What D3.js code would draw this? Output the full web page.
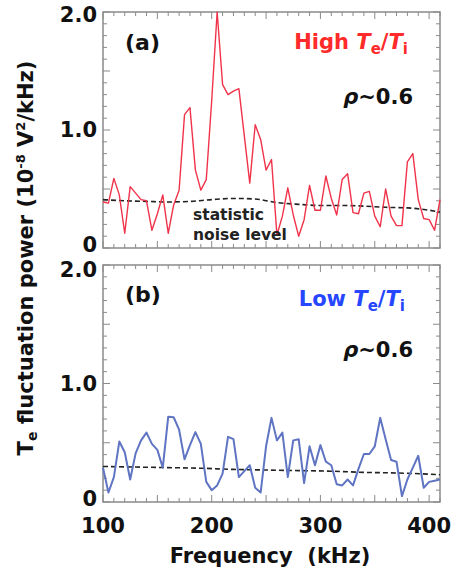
<!DOCTYPE html>
<html><head><meta charset="utf-8">
<script src="https://cdn.jsdelivr.net/npm/d3@7"></script>
<style>body{margin:0;background:#fff}svg text{font-family:"DejaVu Sans",sans-serif;font-weight:bold}</style>
</head><body><svg id="c" width="453" height="575"></svg>
<script>
// ---- data ----
const freqHigh = d3.range(100, 411, 5);   // 63 frequency bins (kHz)
const powerHigh = [0.39,0.38,0.59,0.45,0.125,0.52,0.465,0.41,0.40,0.15,0.29,0.45,0.125,0.365,0.49,
  1.13,1.19,0.66,0.49,0.58,1.25,2.0,1.385,1.30,1.33,1.35,0.95,0.55,1.045,0.92,0.66,0.75,0.11,0.27,
  0.51,0.28,0.10,0.24,0.53,0.32,0.32,0.61,0.42,0.28,0.58,0.63,0.30,0.29,0.465,0.48,0.27,0.18,0.50,
  0.27,0.19,0.19,0.73,0.80,0.41,0.25,0.24,0.15,0.41];
const freqLow = d3.range(100, 411, 5);
const powerLow = [0.29,0.08,0.21,0.51,0.42,0.19,0.41,0.52,0.585,0.49,0.44,0.29,0.72,0.715,0.61,0.36,
  0.48,0.59,0.49,0.17,0.10,0.14,0.24,0.55,0.53,0.21,0.26,0.31,0.12,0.08,0.47,0.71,0.52,0.585,0.21,
  0.52,0.53,0.16,0.47,0.31,0.48,0.34,0.31,0.15,0.14,0.19,0.14,0.28,0.405,0.405,0.47,0.71,0.53,0.355,
  0.34,0.05,0.19,0.29,0.39,0.12,0.17,0.18,0.19];
const noiseFreqHigh = [100,120,140,160,180,200,220,240,260,280,300,320,340,360,380,400,410];
const noiseHigh = [0.41,0.40,0.395,0.39,0.395,0.41,0.42,0.415,0.385,0.37,0.36,0.36,0.355,0.345,0.34,0.32,0.305];
const noiseFreqLow = [100,130,160,190,220,250,280,310,340,370,400,410];
const noiseLow = [0.30,0.295,0.29,0.285,0.275,0.27,0.265,0.26,0.25,0.245,0.235,0.23];
const xTickLabels = [100,200,300,400];
const yTickLabels = [0,1,2];

// ---- layout ----
const svg = d3.select("#c");
const L = 103, R = 440;
const x = d3.scaleLinear().domain([100,410]).range([L,R]);
const panels = [
  {top:12, bot:248, freq:freqHigh, p:powerHigh, nf:noiseFreqHigh, n:noiseHigh, color:"#f0334a",
   label:"(a)", title:"High", tcolor:"#ff2a2a"},
  {top:265, bot:502, freq:freqLow, p:powerLow, nf:noiseFreqLow, n:noiseLow, color:"#5f74c2",
   label:"(b)", title:"Low", tcolor:"#2646ff"}
];
const frameC = "#8a8a8a";

panels.forEach((P,pi)=>{
  const y = d3.scaleLinear().domain([0,2]).range([P.bot,P.top]);
  const g = svg.append("g");
  const yMinor = d3.range(0,2.001,0.1).map(v=>+v.toFixed(1));
  const xMinor = d3.range(100,411,10);
  yMinor.forEach(v=>{
    const len = (Math.round(v*10)%5===0)?7:4;
    g.append("line").attr("x1",L).attr("x2",L+len).attr("y1",y(v)).attr("y2",y(v)).attr("stroke",frameC);
    g.append("line").attr("x1",R).attr("x2",R-len).attr("y1",y(v)).attr("y2",y(v)).attr("stroke",frameC);
  });
  xMinor.forEach(f=>{
    const len = (f%50===0)?7:4;
    g.append("line").attr("x1",x(f)).attr("x2",x(f)).attr("y1",P.bot).attr("y2",P.bot-len).attr("stroke",frameC);
    g.append("line").attr("x1",x(f)).attr("x2",x(f)).attr("y1",P.top).attr("y2",P.top+len).attr("stroke",frameC);
  });
  g.append("rect").attr("x",L).attr("y",P.top).attr("width",R-L).attr("height",P.bot-P.top)
    .attr("fill","none").attr("stroke",frameC).attr("stroke-width",1.5);
  yTickLabels.forEach(v=>{
    let dy = 0;
    if (v===0) dy = -3;
    if (v===2) dy = pi===0?3:5;
    g.append("text").attr("x",97).attr("y",y(v)+dy).attr("text-anchor","end")
      .attr("dominant-baseline","central").attr("font-size",21).attr("fill","#111")
      .text(v===0?"0":v.toFixed(1));
  });
  g.append("path").datum(P.nf.map((f,i)=>[f,P.n[i]]))
    .attr("d",d3.line().x(d=>x(d[0])).y(d=>y(d[1])).curve(d3.curveMonotoneX))
    .attr("fill","none").attr("stroke","#222").attr("stroke-width",1.6).attr("stroke-dasharray","5,3");
  g.append("path").datum(P.freq.map((f,i)=>[f,P.p[i]]))
    .attr("d",d3.line().x(d=>x(d[0])).y(d=>y(d[1])))
    .attr("fill","none").attr("stroke",P.color).attr("stroke-width",pi===0?1.4:2).attr("stroke-linejoin","round");
  g.append("text").attr("x",125).attr("y",P.top+(pi===0?38:37)).attr("font-size",22).attr("fill","#111").text(P.label);
  const t = g.append("text").attr("x",pi===0?408:405).attr("y",P.top+(pi===0?37:41)).attr("text-anchor","end")
    .attr("font-size",21).attr("fill",P.tcolor);
  t.append("tspan").text(P.title+" ");
  t.append("tspan").attr("font-style","italic").text("T");
  t.append("tspan").attr("font-size",15).attr("dy",5).text("e");
  t.append("tspan").attr("dy",-5).text("/");
  t.append("tspan").attr("font-style","italic").text("T");
  t.append("tspan").attr("font-size",15).attr("dy",5).text("i");
  const r = g.append("text").attr("x",413).attr("y",P.top+92).attr("text-anchor","end")
    .attr("font-size",21).attr("fill","#111");
  r.append("tspan").attr("font-style","italic").text("ρ");
  r.append("tspan").text("~0.6");
});

svg.append("text").attr("x",193).attr("y",220).attr("font-size",15.5).attr("fill","#222").text("statistic");
svg.append("text").attr("x",193).attr("y",240).attr("font-size",15.5).attr("fill","#222").text("noise level");

xTickLabels.forEach(f=>{
  svg.append("text").attr("x",x(f)).attr("y",533).attr("text-anchor","middle").attr("font-size",21)
    .attr("fill","#111").text(f);
});
svg.append("text").attr("x",270).attr("y",563).attr("text-anchor","middle").attr("font-size",21)
  .attr("fill","#111").attr("xml:space","preserve").text("Frequency  (kHz)");

const yt = svg.append("text").attr("transform","translate(33,258) rotate(-90)").attr("text-anchor","middle")
  .attr("font-size",21).attr("fill","#111");
yt.append("tspan").text("T");
yt.append("tspan").attr("font-size",14).attr("dy",4).text("e");
yt.append("tspan").attr("dy",-4).text(" fluctuation power (10");
yt.append("tspan").attr("font-size",13).attr("dy",-8).text("-8");
yt.append("tspan").attr("dy",8).text(" V");
yt.append("tspan").attr("font-size",13).attr("dy",-8).text("2");
yt.append("tspan").attr("dy",8).text("/kHz)");
</script></body></html>
